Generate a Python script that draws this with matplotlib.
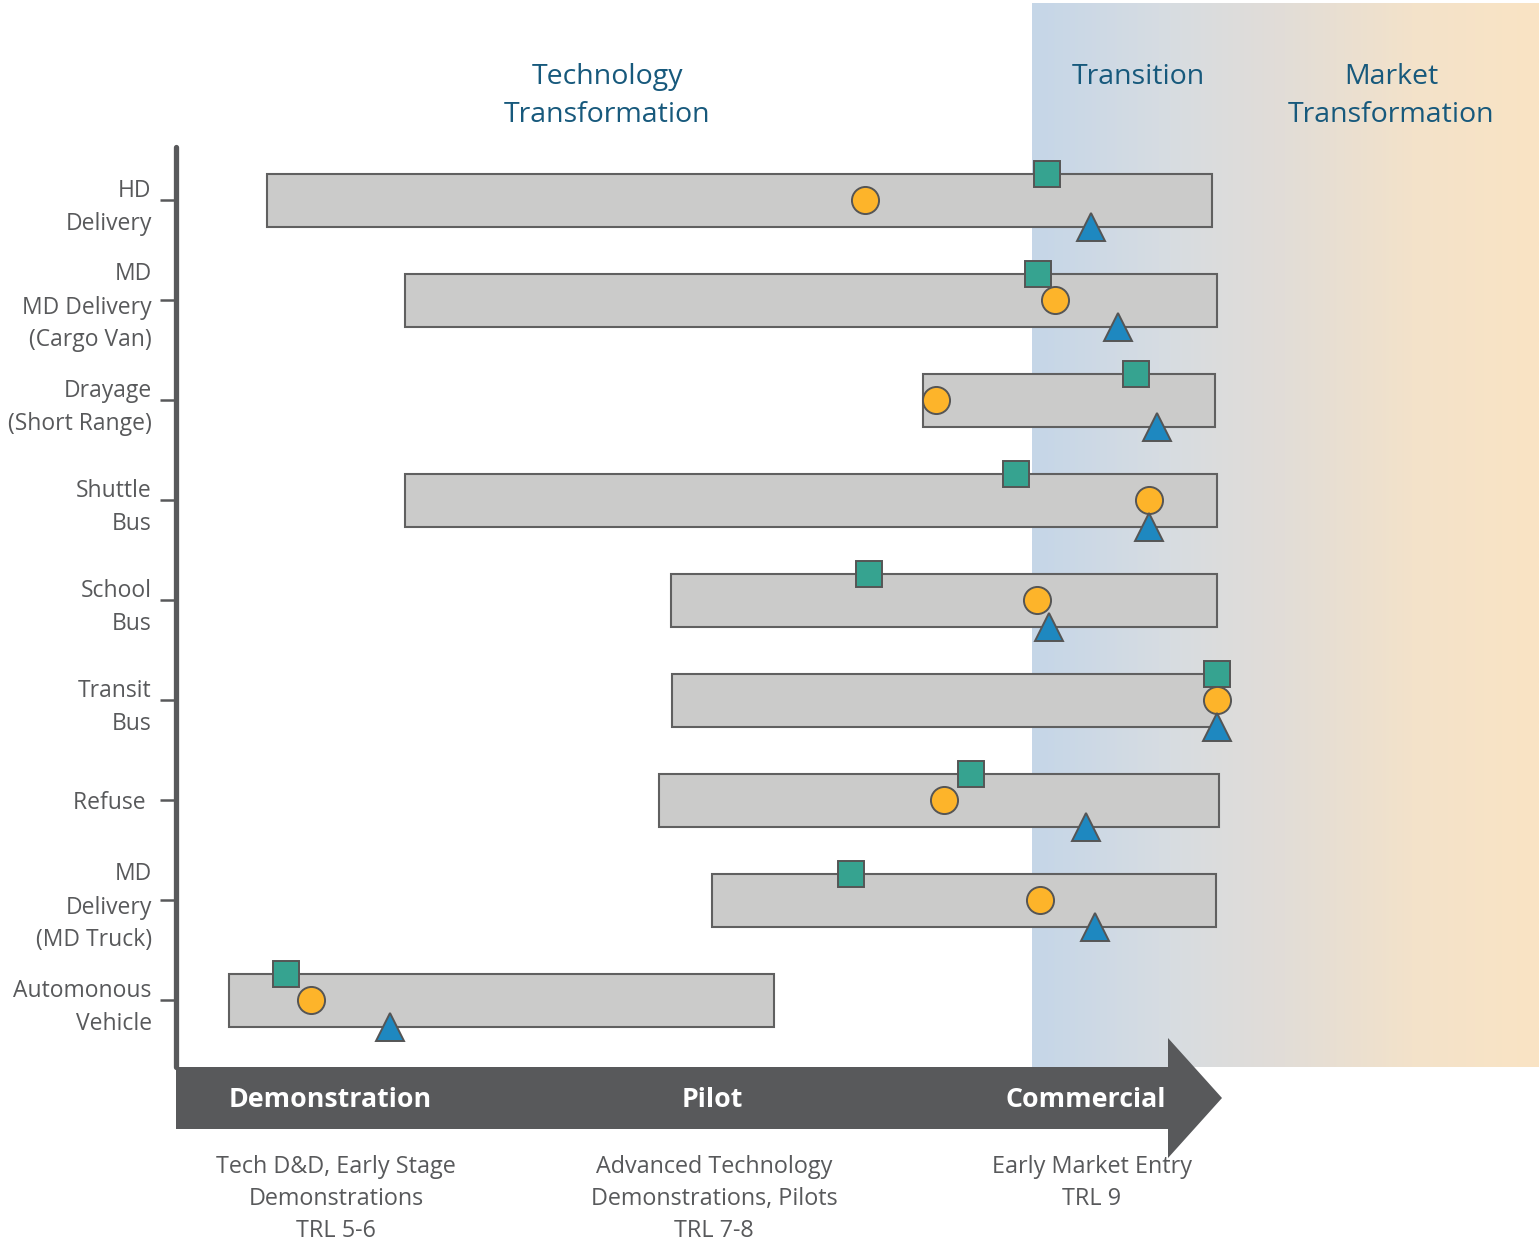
import numpy as np
import matplotlib.pyplot as plt
from matplotlib.colors import LinearSegmentedColormap
from matplotlib.patches import Polygon

plt.rcParams['font.family'] = ['Open Sans', 'DejaVu Sans']

# rows, top to bottom
categories = ['HD\nDelivery', 'MD\nMD Delivery\n(Cargo Van)', 'Drayage\n(Short Range)',
              'Shuttle\nBus', 'School\nBus', 'Transit\nBus', 'Refuse ',
              'MD\nDelivery\n(MD Truck)', 'Automonous\nVehicle']
# bar extent along the maturity axis
bar_start = [267, 405, 923, 405, 671, 672, 659, 712, 229]
bar_end = [1212, 1217, 1215, 1217, 1217, 1217, 1219, 1216, 774]
# marker positions along the same axis
square_pos = [1047, 1038, 1136, 1016, 869, 1217, 971, 851, 286]
circle_pos = [865, 1055, 936, 1149, 1037, 1217, 944, 1040, 311]
triangle_pos = [1091, 1118, 1157, 1149, 1049, 1217, 1086, 1095, 390]

stages = ['Demonstration', 'Pilot', 'Commercial']
stage_pos = [330, 712, 1086]
stage_notes = ['Tech D&D, Early Stage\nDemonstrations\nTRL 5-6',
               'Advanced Technology\nDemonstrations, Pilots\nTRL 7-8',
               'Early Market Entry\nTRL 9']
note_pos = [336, 714, 1092]

phases = ['Technology\nTransformation', 'Transition', 'Market\nTransformation']
phase_pos = [607, 1138, 1391]

W, H = 1539, 1251
grey = '#58595b'
title_col = '#17597c'

fig = plt.figure(figsize=(W / 100, H / 100), dpi=100)

# background / decoration axes in pixel units
ax = fig.add_axes([0, 0, 1, 1])
ax.set_xlim(0, W)
ax.set_ylim(H, 0)
ax.axis('off')

cmap = LinearSegmentedColormap.from_list(
    'band', ['#c5d6e8', '#d6dce2', '#e2ddd7', '#f3e2ca', '#fae4c4'])
grad = np.linspace(0, 1, 256).reshape(1, -1)
ax.imshow(grad, cmap=cmap, extent=[1032, W, 1067, 3], aspect='auto', zorder=0)

# vertical axis line
ax.plot([176, 176], [147, 1067], color=grey, lw=3.8, solid_capstyle='round', zorder=2)

# timeline arrow
arrow = Polygon([[176, 1067], [1168, 1067], [1168, 1038], [1222, 1098],
                 [1168, 1158], [1168, 1129], [176, 1129]],
                closed=True, facecolor=grey, edgecolor='none', zorder=2)
ax.add_patch(arrow)
for s, x in zip(stages, stage_pos):
    ax.text(x, 1100, s, color='white', fontsize=19.3, fontweight='bold',
            ha='center', va='center', zorder=3)
for s, x in zip(stage_notes, note_pos):
    ax.text(x, 1155, s, color=grey, fontsize=16.8, ha='center', va='top',
            linespacing=1.45)

for s, x in zip(phases, phase_pos):
    ax.text(x, 63, s, color=title_col, fontsize=20.5, ha='center', va='top',
            linespacing=1.5)

# rows axes
ax2 = fig.add_axes([0, 1 - 1050 / H, 1, 900 / H])
ax2.patch.set_visible(False)
ax2.set_xlim(0, W)
ax2.set_ylim(8.5, -0.5)
for sp in ax2.spines.values():
    sp.set_visible(False)
ax2.spines['left'].set_position(('data', 176))
ax2.set_xticks([])
rows = np.arange(len(categories))
ax2.set_yticks(rows)
ax2.set_yticklabels(categories, fontsize=16.5, color=grey, linespacing=1.5)
ax2.tick_params(axis='y', length=11.5, width=1.8, color=grey, pad=6)

bar_h = 0.53
widths = np.array(bar_end) - np.array(bar_start)
ax2.barh(rows, widths, left=bar_start, height=bar_h, color='#cbcbca',
         edgecolor='#606060', linewidth=1.5, zorder=2)
mk = dict(markeredgecolor='#555555', markeredgewidth=1.4, linestyle='none', zorder=3)
ax2.plot(square_pos, rows - bar_h / 2, marker='s', markersize=19, color='#36a390', **mk)
ax2.plot(circle_pos, rows, marker='o', markersize=19.5, color='#fdb42a', **mk)
ax2.plot(triangle_pos, rows + bar_h / 2, marker='^', markersize=20, color='#1e88c0', **mk)

fig.savefig('out.png', dpi=100)
